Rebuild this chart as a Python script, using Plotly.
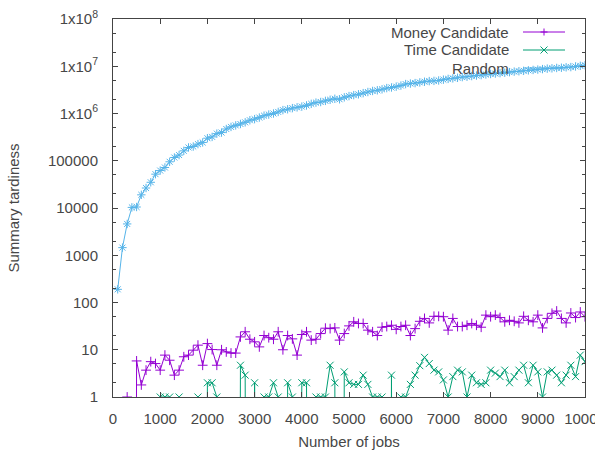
import plotly.graph_objects as go

jobs = list(range(100, 10001, 100))

money_candidate = [
    0, 0, 1, 0, 5.8, 1.8, 3.7, 5.6, 5.1, 3.7,
    7.7, 6, 2.9, 3.7, 7.1, 7.7, 9.8, 12.5, 4.7, 13.5,
    10.1, 4.7, 10, 9, 8.5, 8.5, 18.7, 24, 16.7, 14.7,
    11.5, 20, 18, 16.7, 24, 10, 20, 17, 7.7, 21,
    24, 16, 16.7, 22, 28.6, 28, 29, 16, 22, 32,
    39, 36, 36, 26, 24, 20, 30, 31, 33, 27,
    31, 33, 20, 28, 40, 46, 37, 51, 51, 50,
    26, 46, 31, 31, 33, 36, 33, 30, 54, 50,
    54, 48, 39, 42, 40, 37, 51, 42, 39, 54,
    29, 46, 59, 66, 46, 37, 60, 48, 63, 50,
]

time_candidate = [
    0, 0, 0, 0, 0, 0, 0, 0, 0, 1,
    1, 1, 0, 1, 0, 0, 0, 1, 0, 2,
    2, 1, 0, 0, 0, 0, 4.7, 2.9, 0, 2,
    0, 1, 1, 2, 1, 0, 2, 1, 0, 2,
    2, 0, 1, 1, 1, 4.7, 2, 0, 3.4, 2,
    1.85, 1.85, 2.9, 1.85, 1, 1, 1, 0, 2.9, 0,
    1, 1, 1.85, 2.9, 4.6, 6.9, 5.1, 3.7, 3.4, 2.3,
    1, 2.7, 3.7, 3.4, 1, 2.9, 2, 1.85, 2, 3.7,
    3.2, 2.7, 3.7, 2, 2.7, 3.7, 4.7, 2, 4.7, 3.4,
    1, 3.4, 3.7, 2.9, 2, 2.9, 4.7, 2.7, 7.7, 5.6,
]

random_alg = [
    190, 1450, 4600, 10300, 10500, 19000, 26500, 35000, 52000, 62000,
    72000, 95000, 117000, 132000, 162000, 191000, 200000, 225000, 244000, 300000,
    320000, 375000, 395000, 470000, 520000, 560000, 600000, 650000, 720000, 760000,
    820000, 900000, 950000, 1000000, 1080000, 1180000, 1230000, 1300000, 1350000, 1400000,
    1480000, 1600000, 1700000, 1750000, 1850000, 1950000, 2050000, 2000000, 2200000, 2340000,
    2450000, 2550000, 2700000, 2850000, 3000000, 3100000, 3250000, 3450000, 3550000, 3700000,
    3900000, 4200000, 4300000, 4400000, 4550000, 4700000, 4850000, 4900000, 5000000, 5200000,
    5400000, 5550000, 5700000, 5900000, 6000000, 6200000, 6350000, 6500000, 6700000, 6850000,
    7000000, 7150000, 7300000, 7500000, 7700000, 7850000, 8000000, 8200000, 8350000, 8500000,
    8700000, 8900000, 9050000, 9200000, 9300000, 9500000, 9600000, 9900000, 10200000, 10500000,
]

series_names = ["Money Candidate", "Time Candidate", "Random"]
y_tick_vals = [1, 10, 100, 1000, 10000, 100000, 1e6, 1e7, 1e8]
y_tick_text = ["1", "10", "100", "1000", "10000", "100000",
               "1x10<sup>6</sup>", "1x10<sup>7</sup>", "1x10<sup>8</sup>"]
x_tick_vals = list(range(0, 10001, 1000))

COLORS = ["#9400D3", "#009E73", "#56B4E9"]
SYMBOLS = ["cross-thin", "x-thin", "asterisk"]
TXT = "#474747"
FONT = "Liberation Sans, Arial, sans-serif"


def log_safe(vals):
    # zeros are undefined on a log axis; push them far below so the line drops off the axis
    return [v if v > 0 else 1e-30 for v in vals]


fig = go.Figure()
for name, vals, col, sym in zip(series_names, [money_candidate, time_candidate, random_alg], COLORS, SYMBOLS):
    fig.add_trace(go.Scatter(
        x=jobs, y=log_safe(vals), name=name, mode="lines+markers",
        line=dict(color=col, width=1, simplify=False),
        marker=dict(symbol=sym, size=7, color=col, line=dict(color=col, width=1)),
        showlegend=False,
    ))

# gnuplot-style key: right aligned text, sample to the right
L, R, T, B = 113, 585, 19, 397
W, H = R - L, B - T


def px(x):
    return (x - L) / W


def py(y):
    return (B - y) / H


key_rows = [32, 50, 68]
for name, col, yy, idx in zip(series_names, COLORS, key_rows, range(3)):
    fig.add_annotation(text=name, x=px(511), y=py(yy), xref="paper", yref="paper",
                       xanchor="right", yanchor="middle", showarrow=False,
                       font=dict(size=15, color=TXT, family=FONT))
    fig.add_shape(type="line", xref="paper", yref="paper",
                  x0=px(523), x1=px(565), y0=py(yy), y1=py(yy),
                  line=dict(color=col, width=1))
    cx, cy, d = 544, yy, 3.5
    if idx == 0:
        path = f"M{px(cx-d)},{py(cy)} L{px(cx+d)},{py(cy)} M{px(cx)},{py(cy-d)} L{px(cx)},{py(cy+d)}"
    elif idx == 1:
        path = f"M{px(cx-d)},{py(cy-d)} L{px(cx+d)},{py(cy+d)} M{px(cx-d)},{py(cy+d)} L{px(cx+d)},{py(cy-d)}"
    else:
        path = None
    if path:
        fig.add_shape(type="path", xref="paper", yref="paper", path=path,
                      line=dict(color=col, width=1))

axis_common = dict(
    showgrid=False, zeroline=False, showline=True, linecolor="#444", linewidth=1,
    mirror="allticks", ticks="inside", ticklen=5, tickcolor="#444", tickwidth=1,
    tickfont=dict(size=15, color=TXT, family=FONT), automargin=False,
)

fig.update_xaxes(range=[0, 10000], tickvals=x_tick_vals,
                 ticktext=[str(v) for v in x_tick_vals],
                 title=dict(text="Number of jobs", font=dict(size=15, color=TXT, family=FONT), standoff=10),
                 ticklabelstandoff=8, ticklabeloverflow="allow",
                 **axis_common)
fig.update_yaxes(type="log", range=[0, 8], tickvals=y_tick_vals, ticktext=y_tick_text,
                 title=dict(text="Summary tardiness", font=dict(size=15, color=TXT, family=FONT), standoff=24),
                 ticklabelstandoff=11,
                 minor=dict(ticks="inside", ticklen=3, tickcolor="#444", dtick="D2", showgrid=False),
                 **axis_common)

fig.update_layout(
    width=595, height=458,
    margin=dict(l=L, r=595 - R, t=T, b=458 - B, autoexpand=False),
    paper_bgcolor="white", plot_bgcolor="white",
    font=dict(family=FONT, color=TXT),
)

fig.write_html("out.html")
